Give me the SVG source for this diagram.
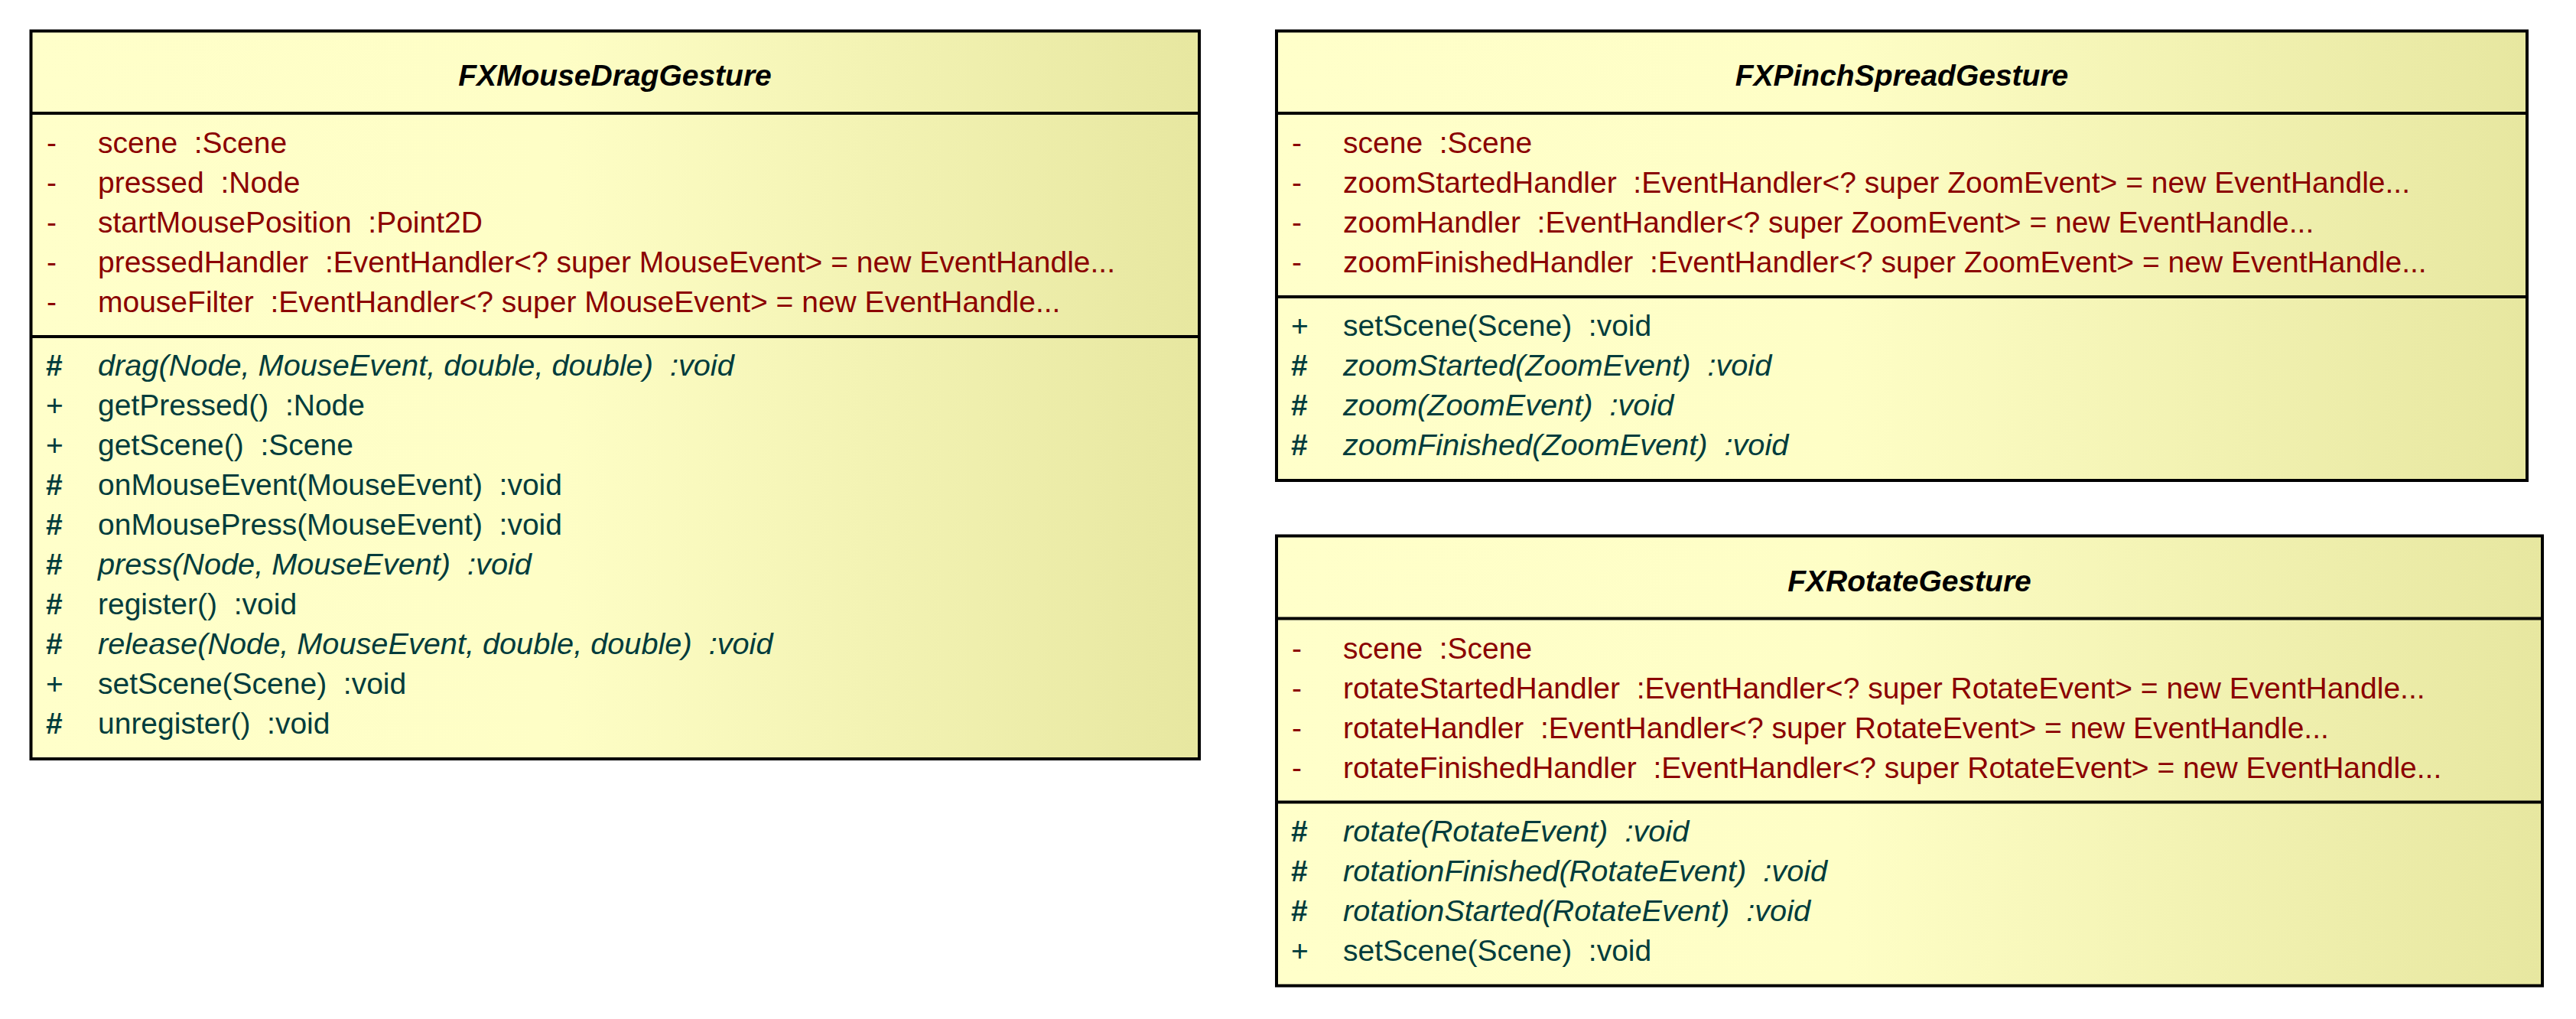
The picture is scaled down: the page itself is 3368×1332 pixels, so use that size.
<svg xmlns="http://www.w3.org/2000/svg" width="3368" height="1332" viewBox="0 0 3368 1332">
<style>
text{font-family:"Liberation Sans",Arial,sans-serif;font-size:39px;white-space:pre}
.t{font-weight:bold;font-style:italic;fill:#000;text-anchor:middle}
.a{fill:#8B0000}
.m{fill:#003C3C}
.i{font-style:italic;font-size:39.7px}
.h{font-weight:bold}
.box{fill:url(#g);stroke:#000;stroke-width:4}
.sep{stroke:#000;stroke-width:4}
</style>
<defs>
<linearGradient id="g" x1="0" y1="0" x2="1" y2="0">
<stop offset="0" stop-color="#FFFFCA"/>
<stop offset="0.45" stop-color="#FEFEC6"/>
<stop offset="1" stop-color="#E7E7A0"/>
</linearGradient>
</defs>
<rect width="3368" height="1332" fill="#fff"/>
<g id="FXMouseDragGesture">
<rect class="box" x="40.5" y="40.5" width="1527.5" height="951.5"/>
<line class="sep" x1="40.5" y1="148" x2="1568" y2="148"/>
<line class="sep" x1="40.5" y1="440" x2="1568" y2="440"/>
<text class="t" x="804" y="112">FXMouseDragGesture</text>
<text class="a" x="61" y="200">-</text><text class="a" x="128" y="200">scene  :Scene</text>
<text class="a" x="61" y="252">-</text><text class="a" x="128" y="252">pressed  :Node</text>
<text class="a" x="61" y="304">-</text><text class="a" x="128" y="304">startMousePosition  :Point2D</text>
<text class="a" x="61" y="356">-</text><text class="a" x="128" y="356">pressedHandler  :EventHandler&lt;? super MouseEvent&gt; = new EventHandle...</text>
<text class="a" x="61" y="408">-</text><text class="a" x="128" y="408">mouseFilter  :EventHandler&lt;? super MouseEvent&gt; = new EventHandle...</text>
<text class="m h" x="60" y="491">#</text><text class="m i" x="128" y="491">drag(Node, MouseEvent, double, double)  :void</text>
<text class="m" x="60" y="543">+</text><text class="m" x="128" y="543">getPressed()  :Node</text>
<text class="m" x="60" y="595">+</text><text class="m" x="128" y="595">getScene()  :Scene</text>
<text class="m h" x="60" y="647">#</text><text class="m" x="128" y="647">onMouseEvent(MouseEvent)  :void</text>
<text class="m h" x="60" y="699">#</text><text class="m" x="128" y="699">onMousePress(MouseEvent)  :void</text>
<text class="m h" x="60" y="751">#</text><text class="m i" x="128" y="751">press(Node, MouseEvent)  :void</text>
<text class="m h" x="60" y="803">#</text><text class="m" x="128" y="803">register()  :void</text>
<text class="m h" x="60" y="855">#</text><text class="m i" x="128" y="855">release(Node, MouseEvent, double, double)  :void</text>
<text class="m" x="60" y="907">+</text><text class="m" x="128" y="907">setScene(Scene)  :void</text>
<text class="m h" x="60" y="959">#</text><text class="m" x="128" y="959">unregister()  :void</text>
</g>
<g id="FXPinchSpreadGesture">
<rect class="box" x="1669" y="40.5" width="1635" height="587.5"/>
<line class="sep" x1="1669" y1="148" x2="3304" y2="148"/>
<line class="sep" x1="1669" y1="388" x2="3304" y2="388"/>
<text class="t" x="2486.5" y="112">FXPinchSpreadGesture</text>
<text class="a" x="1689" y="200">-</text><text class="a" x="1756" y="200">scene  :Scene</text>
<text class="a" x="1689" y="252">-</text><text class="a" x="1756" y="252">zoomStartedHandler  :EventHandler&lt;? super ZoomEvent&gt; = new EventHandle...</text>
<text class="a" x="1689" y="304">-</text><text class="a" x="1756" y="304">zoomHandler  :EventHandler&lt;? super ZoomEvent&gt; = new EventHandle...</text>
<text class="a" x="1689" y="356">-</text><text class="a" x="1756" y="356">zoomFinishedHandler  :EventHandler&lt;? super ZoomEvent&gt; = new EventHandle...</text>
<text class="m" x="1688" y="439">+</text><text class="m" x="1756" y="439">setScene(Scene)  :void</text>
<text class="m h" x="1688" y="491">#</text><text class="m i" x="1756" y="491">zoomStarted(ZoomEvent)  :void</text>
<text class="m h" x="1688" y="543">#</text><text class="m i" x="1756" y="543">zoom(ZoomEvent)  :void</text>
<text class="m h" x="1688" y="595">#</text><text class="m i" x="1756" y="595">zoomFinished(ZoomEvent)  :void</text>
</g>
<g id="FXRotateGesture">
<rect class="box" x="1669" y="700.5" width="1655" height="588"/>
<line class="sep" x1="1669" y1="808.5" x2="3324" y2="808.5"/>
<line class="sep" x1="1669" y1="1048.5" x2="3324" y2="1048.5"/>
<text class="t" x="2496.5" y="772.5">FXRotateGesture</text>
<text class="a" x="1689" y="860.5">-</text><text class="a" x="1756" y="860.5">scene  :Scene</text>
<text class="a" x="1689" y="912.5">-</text><text class="a" x="1756" y="912.5">rotateStartedHandler  :EventHandler&lt;? super RotateEvent&gt; = new EventHandle...</text>
<text class="a" x="1689" y="964.5">-</text><text class="a" x="1756" y="964.5">rotateHandler  :EventHandler&lt;? super RotateEvent&gt; = new EventHandle...</text>
<text class="a" x="1689" y="1016.5">-</text><text class="a" x="1756" y="1016.5">rotateFinishedHandler  :EventHandler&lt;? super RotateEvent&gt; = new EventHandle...</text>
<text class="m h" x="1688" y="1099.5">#</text><text class="m i" x="1756" y="1099.5">rotate(RotateEvent)  :void</text>
<text class="m h" x="1688" y="1151.5">#</text><text class="m i" x="1756" y="1151.5">rotationFinished(RotateEvent)  :void</text>
<text class="m h" x="1688" y="1203.5">#</text><text class="m i" x="1756" y="1203.5">rotationStarted(RotateEvent)  :void</text>
<text class="m" x="1688" y="1255.5">+</text><text class="m" x="1756" y="1255.5">setScene(Scene)  :void</text>
</g>
<g id="connectors"/>
</svg>
